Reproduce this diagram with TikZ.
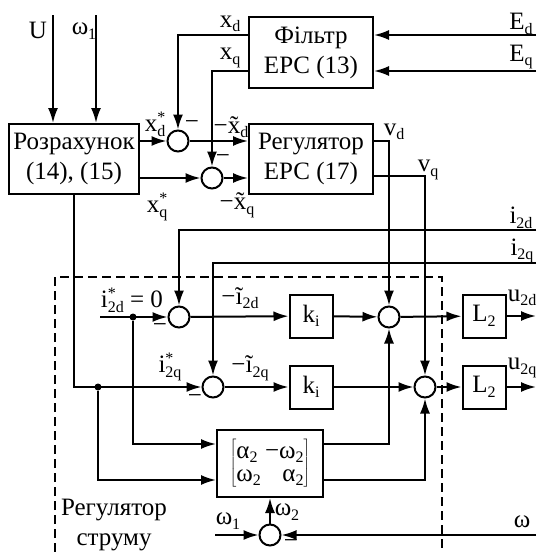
\documentclass[tikz,border=0pt]{standalone}
\usepackage{fontspec}
\setmainfont{Liberation Serif}
\usetikzlibrary{arrows.meta}

\newcommand{\lowidx}[1]{\raisebox{-0.4ex}{\fontsize{16}{16}\selectfont #1}}
\newcommand{\upidx}[1]{\raisebox{0.8ex}{\fontsize{16}{16}\selectfont #1}}
\newcommand{\bothidx}[2]{\rlap{\upidx{#1}}\lowidx{#2}}
\newcommand{\mns}{\char"2212}

\tikzset{
  blk/.style={draw,line width=2pt,inner sep=0pt,align=center},
  sumc/.style={draw,circle,line width=2pt,minimum size=21pt,inner sep=0pt},
  sig/.style={line width=2pt,-{Latex[length=15pt,width=10pt]}},
  lbl/.style={inner sep=0pt},
  minus/.style={inner sep=0pt,anchor=base},
  jdot/.style={fill,circle,inner sep=0pt,minimum size=7pt},
}

\begin{document}
\begin{tikzpicture}[x=1pt,y=-1pt,font=\fontsize{25}{30}\selectfont]
    \useasboundingbox (0,0) rectangle (536,552);
    % blocks
    \node[blk,minimum width=130pt,minimum height=70pt] (calc) at (74,159) {Розрахунок\\(14), (15)};
    \node[blk,minimum width=124pt,minimum height=71pt] (filt) at (311,52.5) {Фільтр\\ЕРС (13)};
    \node[blk,minimum width=124pt,minimum height=70pt] (regemf) at (311,159) {Регулятор\\ЕРС (17)};
    \node[blk,minimum size=43pt] (kd) at (311,316) {k\lowidx{i}};
    \node[blk,minimum size=43pt] (kq) at (311,387) {k\lowidx{i}};
    \node[blk,minimum size=43pt] (ld) at (484,316) {L\lowidx{2}};
    \node[blk,minimum size=43pt] (lq) at (484,387) {L\lowidx{2}};
    \node[blk,minimum width=106pt,minimum height=67pt] (mat) at (270,463.5)
        {$\left[\mbox{\begin{tabular}{@{}l@{\,}r@{}}α\lowidx{2} & \mns ω\lowidx{2}\\[-7pt] ω\lowidx{2} & α\lowidx{2}\end{tabular}}\right]$};
    % summing points
    \node[sumc] (s1) at (178,141) {};
    \node[sumc] (s2) at (212,178) {};
    \node[sumc] (s5) at (179,317) {};
    \node[sumc] (s6) at (213,387) {};
    \node[sumc] (s3) at (389,317) {};
    \node[sumc] (s4) at (425,387) {};
    \node[sumc] (s7) at (270,535) {};
    % free ends
    \coordinate (uin) at (53,15);
    \coordinate (win) at (96,15);
    \coordinate (ed) at (536,35);
    \coordinate (eq) at (536,71);
    \coordinate (i2d) at (536,230);
    \coordinate (i2q) at (536,263);
    \coordinate (idref) at (100,317);
    \coordinate (ud) at (536,316);
    \coordinate (uq) at (536,387);
    \coordinate (wr) at (536,535);
    \coordinate (w1) at (215,535);
    \node[jdot] (jd) at (133,317) {};
    \node[jdot] (jq) at (98,387) {};
    % connectors
    \draw[sig] (uin) -- (uin |- calc.north);
    \draw[sig] (win) -- (win |- calc.north);
    \draw[sig] (ed) -- (ed -| filt.east);
    \draw[sig] (eq) -- (eq -| filt.east);
    \draw[sig] (ed -| filt.west) -| (s1);
    \draw[sig] (eq -| filt.west) -| (s2);
    \draw[sig] (calc.east |- s1) -- (s1);
    \draw[sig] (calc.east |- s2) -- (s2);
    \draw[sig] (s1) -- (s1 -| regemf.west);
    \draw[sig] (s2) -- (s2 -| regemf.west);
    \draw[sig] (s1 -| regemf.east) -| (s3);
    \draw[sig] ([yshift=-17pt]regemf.east) -| (s4);
    \draw[sig] (i2d) -| (s5);
    \draw[sig] (i2q) -| (s6);
    \draw[sig] (idref) -- (s5);
    \draw[sig] (calc.south) |- (s6);
    \draw[sig] (jd) |- ([yshift=19.5pt]mat.west);
    \draw[sig] (jq) |- ([yshift=-16.5pt]mat.west);
    \draw[sig] ([yshift=19.5pt]mat.east) -| (s3);
    \draw[sig] ([yshift=-16.5pt]mat.east) -| (s4);
    \draw[sig] (s5) -- (kd);
    \draw[sig] (kd) -- (s3);
    \draw[sig] (s3) -- (ld);
    \draw[sig] (ld) -- (ud);
    \draw[sig] (s6) -- (kq);
    \draw[sig] (kq) -- (s4);
    \draw[sig] (s4) -- (lq);
    \draw[sig] (lq) -- (uq);
    \draw[sig] (wr) -- (s7);
    \draw[sig] (w1) -- (s7);
    \draw[sig] (s7) -- (mat);
    % current controller frame
    \draw[line width=1.2pt,dash pattern=on 9pt off 5pt] (55,552) |- (442,277) -- (442,552);
    % labels
    \node[lbl] at (38,30) {U};
    \node[lbl] at (84,31) {ω\lowidx{1}};
    \node[lbl] at (230,24) {x\lowidx{d}};
    \node[lbl] at (230,58) {x\lowidx{q}};
    \node[lbl] at (521,24) {E\lowidx{d}};
    \node[lbl] at (521,57) {E\lowidx{q}};
    \node[lbl] at (155,124) {x\bothidx{*}{d}};
    \node[lbl] at (157,207) {x\bothidx{*}{q}};
    \node[lbl] at (231,127) {\mns\~{x}\lowidx{d}};
    \node[lbl] at (237,205) {\mns\~{x}\lowidx{q}};
    \node[lbl] at (394,132) {v\lowidx{d}};
    \node[lbl] at (428,170) {v\lowidx{q}};
    \node[lbl] at (521,218) {i\lowidx{2d}};
    \node[lbl] at (522,251) {i\lowidx{2q}};
    \node[lbl] at (132,300) {i\bothidx{*}{2d} = 0};
    \node[lbl] at (170,367) {i\bothidx{*}{2q}};
    \node[lbl] at (240,298) {\mns\~{\i}\lowidx{2d}};
    \node[lbl] at (250,368) {\mns\~{\i}\lowidx{2q}};
    \node[lbl] at (522,298) {u\lowidx{2d}};
    \node[lbl] at (522,368) {u\lowidx{2q}};
    \node[lbl] at (287,512) {ω\lowidx{2}};
    \node[lbl] at (228,521) {ω\lowidx{1}};
    \node[lbl] at (522,522) {ω};
    \node[lbl,align=center] at (114,525) {Регулятор\\струму};
    % minus signs at summing points
    \foreach \p in {(192,129),(223,163),(160,332),(195,403),(291,548)}
        \node[minus] at \p {\mns};
\end{tikzpicture}
\end{document}
